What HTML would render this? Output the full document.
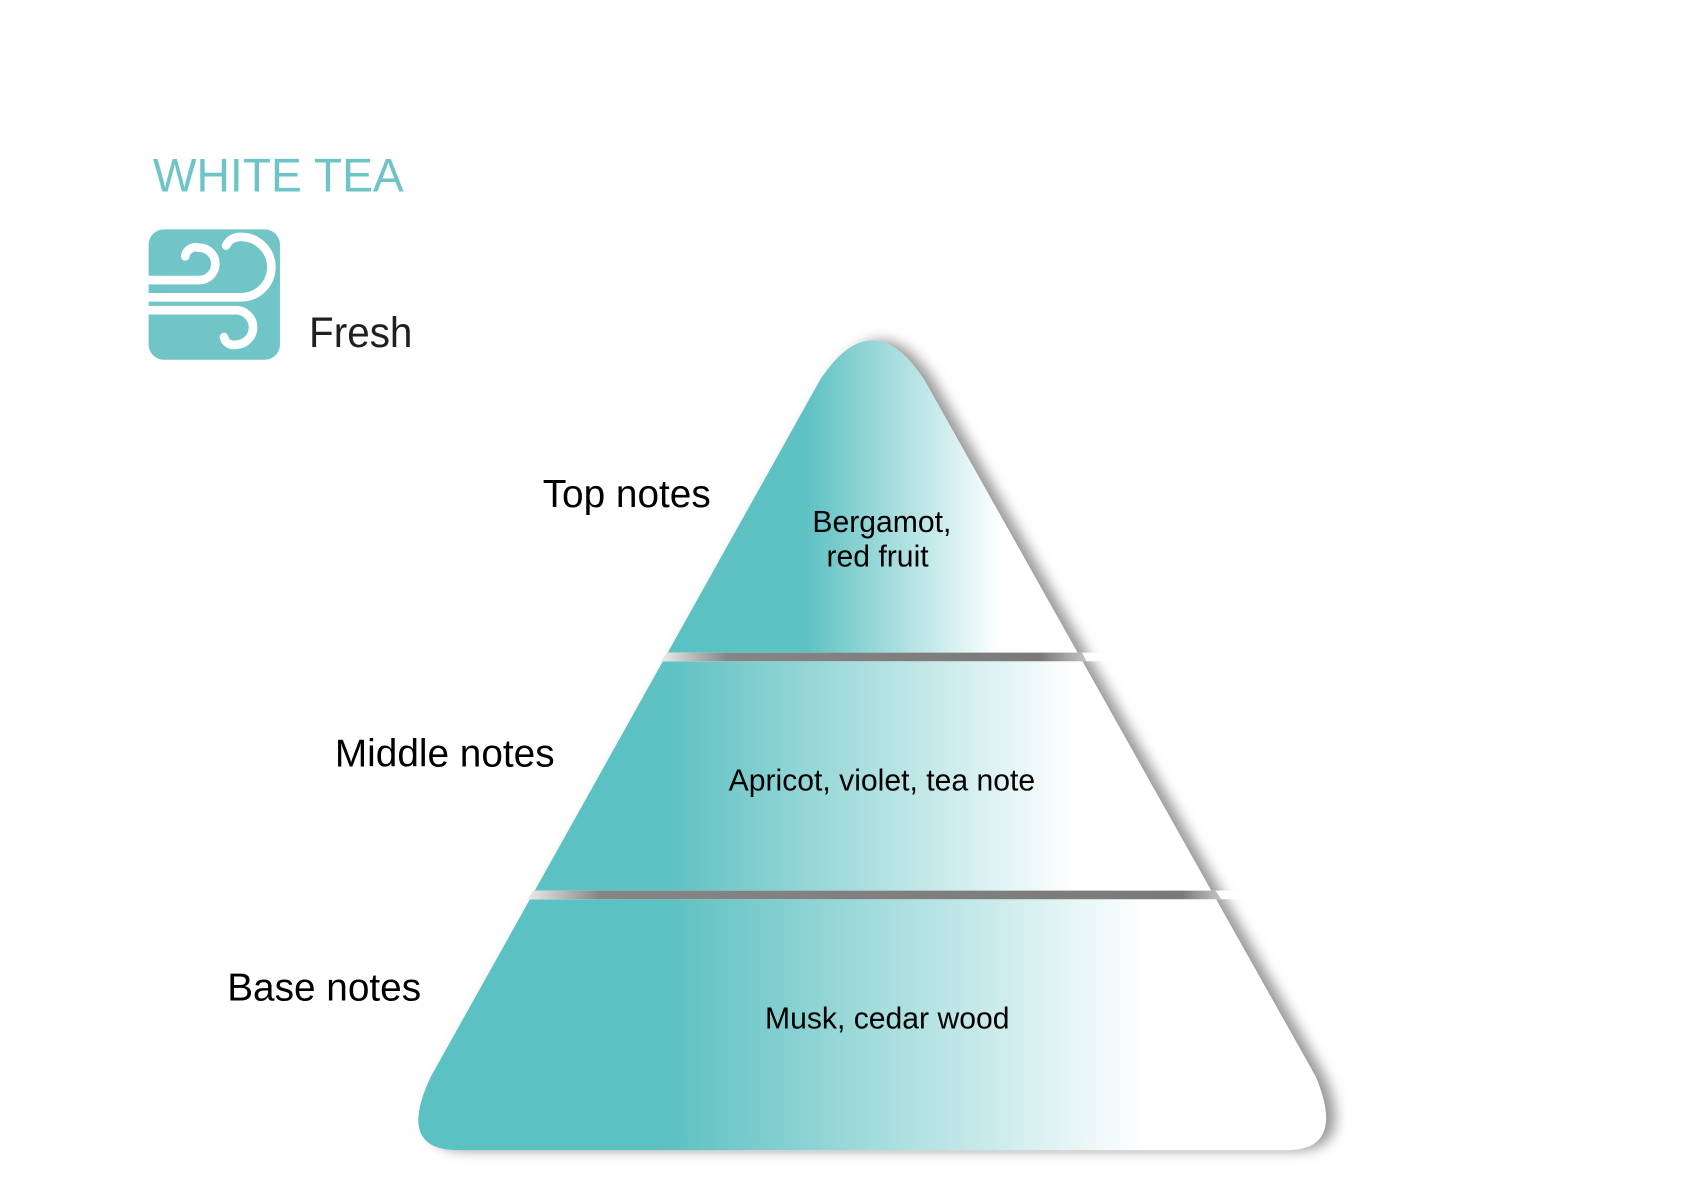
<!DOCTYPE html>
<html><head><meta charset="utf-8"><style>
html,body{margin:0;padding:0;background:#fff;}
svg{display:block}
text{font-family:"Liberation Sans",sans-serif;}
</style></head><body>
<svg width="1683" height="1190" viewBox="0 0 1563 1105" xmlns="http://www.w3.org/2000/svg">
<defs>
<linearGradient id="g1" gradientUnits="userSpaceOnUse" x1="600" y1="0" x2="930" y2="0">
<stop offset="0" stop-color="#5cc1c2"/><stop offset="0.45" stop-color="#5ec1c2"/><stop offset="1" stop-color="#ffffff"/></linearGradient>
<linearGradient id="g2" gradientUnits="userSpaceOnUse" x1="580" y1="0" x2="1000" y2="0">
<stop offset="0" stop-color="#5cc1c2"/><stop offset="0.1" stop-color="#5ec1c2"/><stop offset="1" stop-color="#ffffff"/></linearGradient>
<linearGradient id="g3" gradientUnits="userSpaceOnUse" x1="600" y1="0" x2="1065" y2="0">
<stop offset="0" stop-color="#5cc1c2"/><stop offset="0.05" stop-color="#5ec1c2"/><stop offset="1" stop-color="#ffffff"/></linearGradient>
<linearGradient id="sep1" gradientUnits="userSpaceOnUse" x1="617" y1="0" x2="1005" y2="0">
<stop offset="0" stop-color="#e6e6e6"/><stop offset="0.15" stop-color="#858585"/><stop offset="0.9" stop-color="#7a7a7a"/><stop offset="1" stop-color="#bdbdbd"/></linearGradient>
<linearGradient id="sep2" gradientUnits="userSpaceOnUse" x1="493" y1="0" x2="1130" y2="0">
<stop offset="0" stop-color="#e6e6e6"/><stop offset="0.1" stop-color="#858585"/><stop offset="0.95" stop-color="#7a7a7a"/><stop offset="1" stop-color="#bdbdbd"/></linearGradient>
<filter id="blur" x="-20%" y="-20%" width="140%" height="140%"><feGaussianBlur stdDeviation="6"/></filter>
<path id="tri" d="M762,352 Q810,280 858,352 L1222,1000 Q1250,1068 1195,1068 L425,1068 Q368,1068 400,1000 Z"/>
<clipPath id="c1"><rect x="0" y="0" width="1563" height="606"/></clipPath>
<clipPath id="c2"><rect x="0" y="614" width="1563" height="213"/></clipPath>
<clipPath id="c3"><rect x="0" y="835" width="1563" height="300"/></clipPath>
<clipPath id="ic"><rect x="138" y="213" width="122" height="121" rx="14"/></clipPath>
</defs>

<text x="142" y="178" font-size="44" fill="#6ec4c6" textLength="233" lengthAdjust="spacingAndGlyphs">WHITE TEA</text>
<rect x="138" y="213" width="122" height="121" rx="14" fill="#72c5c7"/>
<g clip-path="url(#ic)" fill="none" stroke="#fff" stroke-width="8" stroke-linecap="round">
<path d="M130,260 H185 A15,15 0 0 0 185,230 A10,10 0 0 0 172,238"/>
<path d="M130,276 H224 A28,28 0 0 0 224,220 A14,14 0 0 0 210,228"/>
<path d="M130,288 H219 A16,16 0 0 1 219,320 A9,9 0 0 1 208,313"/>
</g>
<text x="287" y="322" font-size="40" fill="#231f20" textLength="96" lengthAdjust="spacingAndGlyphs">Fresh</text>

<use href="#tri" fill="#9a9a9a" transform="translate(9,0)" filter="url(#blur)"/>
<use href="#tri" fill="#fff"/>
<use href="#tri" fill="url(#g1)" clip-path="url(#c1)"/>
<use href="#tri" fill="url(#g2)" clip-path="url(#c2)"/>
<use href="#tri" fill="url(#g3)" clip-path="url(#c3)"/>
<rect x="0" y="606" width="1563" height="8" fill="#fff"/>
<rect x="0" y="827" width="1563" height="8" fill="#fff"/>
<polygon points="619,606 1005,606 1009,614 614,614" fill="url(#sep1)"/>
<polygon points="495,827 1129,827 1134,835 490,835" fill="url(#sep2)"/>

<text x="504" y="471" font-size="36" fill="#000">Top notes</text>
<text x="311" y="712" font-size="36" fill="#000">Middle notes</text>
<text x="211" y="929" font-size="36" fill="#000">Base notes</text>

<g font-size="28" fill="#000" text-anchor="middle">
<text x="819" y="494">Bergamot,</text>
<text x="815" y="526">red fruit</text>
<text x="819" y="734">Apricot, violet, tea note</text>
<text x="824" y="955">Musk, cedar wood</text>
</g>
</svg>
</body></html>
